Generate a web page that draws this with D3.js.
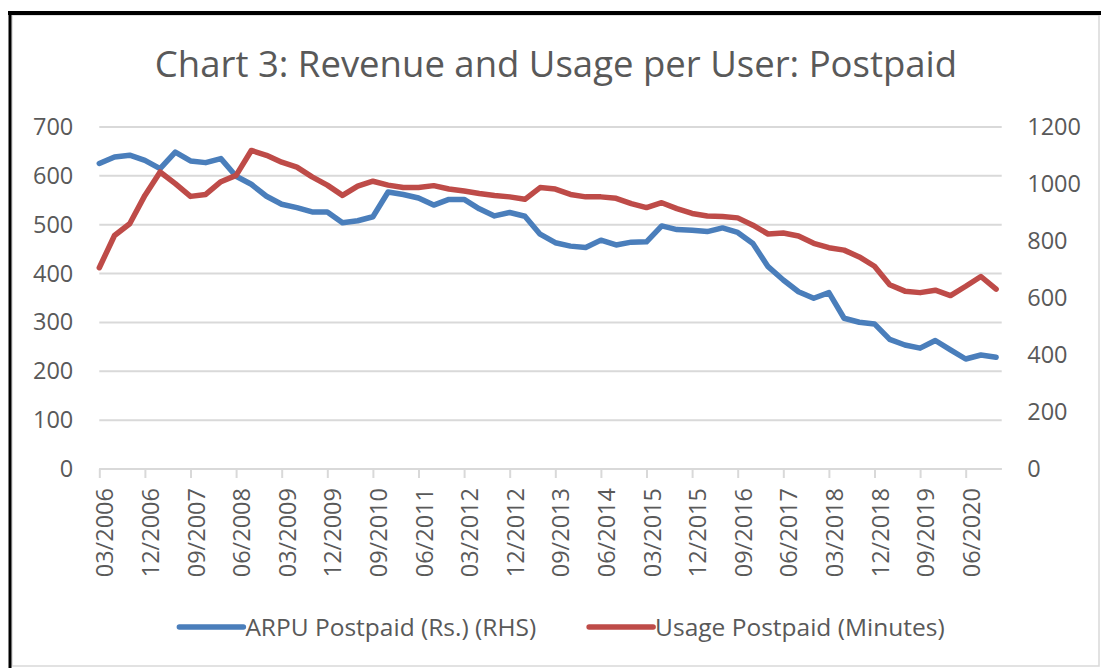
<!DOCTYPE html>
<html>
<head>
<meta charset="utf-8">
<script src="https://cdn.jsdelivr.net/npm/d3@7"></script>
<style>
  body { margin: 0; background: #fff; }
  svg { display: block; }
  text { font-family: "Open Sans", "Liberation Sans", sans-serif; fill: #595959; }
</style>
</head>
<body>
<div id="chart"></div>
<script>
const width = 1101;
const height = 668;

// quarters, 03/2006 .. 12/2020
const quarters = [
  '03/2006','06/2006','09/2006','12/2006','03/2007','06/2007','09/2007','12/2007',
  '03/2008','06/2008','09/2008','12/2008','03/2009','06/2009','09/2009','12/2009',
  '03/2010','06/2010','09/2010','12/2010','03/2011','06/2011','09/2011','12/2011',
  '03/2012','06/2012','09/2012','12/2012','03/2013','06/2013','09/2013','12/2013',
  '03/2014','06/2014','09/2014','12/2014','03/2015','06/2015','09/2015','12/2015',
  '03/2016','06/2016','09/2016','12/2016','03/2017','06/2017','09/2017','12/2017',
  '03/2018','06/2018','09/2018','12/2018','03/2019','06/2019','09/2019','12/2019',
  '03/2020','06/2020','09/2020','12/2020'
];

const xTickLabels = [
  '03/2006','12/2006','09/2007','06/2008','03/2009','12/2009','09/2010',
  '06/2011','03/2012','12/2012','09/2013','06/2014','03/2015','12/2015',
  '09/2016','06/2017','03/2018','12/2018','09/2019','06/2020'
];

// ARPU postpaid (Rs.), right axis
const arpu = [
  1072,1095,1101,1083,1054,1112,1081,1075,1089,1027,
  999,957,929,917,902,902,864,871,885,972,
  963,951,926,946,946,913,888,900,887,824,
  794,782,777,803,786,796,797,853,840,838,
  833,846,830,791,710,663,622,599,619,529,
  515,509,455,435,424,451,418,386,400,392
];

// usage postpaid (minutes), left axis
const usage = [
  412,478,502,560,608,584,558,562,588,601,
  652,642,628,618,598,581,560,579,589,581,
  576,576,580,573,569,564,560,557,552,576,
  573,562,557,557,554,543,535,545,533,523,
  518,517,514,499,481,483,477,462,453,448,
  434,415,377,364,361,366,355,374,394,368
];

const leftTicks = [0, 100, 200, 300, 400, 500, 600, 700];
const rightTicks = [0, 200, 400, 600, 800, 1000, 1200];

const seriesNames = ['ARPU Postpaid (Rs.) (RHS)', 'Usage Postpaid (Minutes)'];
const seriesColors = ['#4a7ebb', '#be4b48'];

const plotL = 99.3, plotR = 1001.7, plotT = 127, plotB = 469;

const svg = d3.select('#chart')
  .append('svg')
  .attr('width', width)
  .attr('height', height);

// frame
svg.append('rect')
  .attr('x', 12).attr('y', 15)
  .attr('width', 1087).attr('height', 651)
  .attr('fill', '#fff')
  .attr('stroke', '#d9d9d9')
  .attr('stroke-width', 1.5);
svg.append('line')
  .attr('x1', 8).attr('x2', width).attr('y1', 13).attr('y2', 13)
  .attr('stroke', '#000').attr('stroke-width', 4);
svg.append('line')
  .attr('x1', 10).attr('x2', 10).attr('y1', 11).attr('y2', height)
  .attr('stroke', '#000').attr('stroke-width', 3);

// title
svg.append('text')
  .attr('x', 556)
  .attr('y', 77)
  .attr('text-anchor', 'middle')
  .style('font-size', '36.5px')
  .text('Chart 3: Revenue and Usage per User: Postpaid');

const x = d3.scalePoint()
  .domain(quarters)
  .range([plotL, plotL + 15.2 * (quarters.length - 1)]);

const yL = d3.scaleLinear().domain([0, 700]).range([plotB, plotT]);
const yR = d3.scaleLinear().domain([0, 1200]).range([plotB, plotT]);

// gridlines
svg.append('g')
  .selectAll('line')
  .data(leftTicks)
  .join('line')
  .attr('x1', plotL).attr('x2', plotR)
  .attr('y1', d => yL(d)).attr('y2', d => yL(d))
  .attr('stroke', '#d9d9d9')
  .attr('stroke-width', 2);

// left axis
const gL = svg.append('g')
  .attr('transform', `translate(${plotL},0)`)
  .call(d3.axisLeft(yL).tickValues(leftTicks).tickFormat(d3.format('d')).tickSize(0).tickPadding(26));
gL.select('.domain').remove();
gL.selectAll('text').style('font-size', '23.5px').attr('fill', '#595959');

// right axis
const gR = svg.append('g')
  .attr('transform', `translate(${plotR},0)`)
  .call(d3.axisRight(yR).tickValues(rightTicks).tickFormat(d3.format('d')).tickSize(0).tickPadding(25.5));
gR.select('.domain').remove();
gR.selectAll('text').style('font-size', '23.5px').attr('fill', '#595959');

// bottom axis
const gX = svg.append('g')
  .attr('transform', `translate(0,${plotB})`)
  .call(d3.axisBottom(x).tickValues(xTickLabels).tickSize(9));
gX.select('.domain')
  .attr('d', `M${plotL},0H${plotR}`)
  .attr('stroke', '#d9d9d9')
  .attr('stroke-width', 2);
gX.selectAll('.tick line').attr('stroke', '#d9d9d9').attr('stroke-width', 2);
gX.selectAll('.tick text')
  .attr('transform', 'rotate(-90)')
  .attr('x', -19)
  .attr('y', 13.5)
  .attr('dy', null)
  .attr('text-anchor', 'end')
  .attr('fill', '#595959')
  .style('font-size', '23.5px');

// lines
const lineL = d3.line().x((d, i) => x(quarters[i])).y(d => yL(d));
const lineR = d3.line().x((d, i) => x(quarters[i])).y(d => yR(d));

svg.append('path')
  .datum(arpu)
  .attr('d', lineR)
  .attr('fill', 'none')
  .attr('stroke', seriesColors[0])
  .attr('stroke-width', 5.5)
  .attr('stroke-linejoin', 'round')
  .attr('stroke-linecap', 'round');

svg.append('path')
  .datum(usage)
  .attr('d', lineL)
  .attr('fill', 'none')
  .attr('stroke', seriesColors[1])
  .attr('stroke-width', 5.5)
  .attr('stroke-linejoin', 'round')
  .attr('stroke-linecap', 'round');

// legend
const legY = 627;
const swatch = 64;
const itemGap = 53;
const leg = svg.append('g');
const items = leg.selectAll('g')
  .data(seriesNames)
  .join('g');
items.append('line')
  .attr('x1', 0).attr('x2', swatch)
  .attr('y1', 0).attr('y2', 0)
  .attr('stroke', (d, i) => seriesColors[i])
  .attr('stroke-width', 5.5)
  .attr('stroke-linecap', 'round');
items.append('text')
  .attr('x', swatch + 2)
  .attr('y', 0)
  .attr('dy', '0.35em')
  .style('font-size', '24.5px')
  .text(d => d);

let widths = [];
items.each(function() { widths.push(this.getBBox().width); });
const total = d3.sum(widths) + itemGap * (widths.length - 1);
let cx = 562 - total / 2;
items.attr('transform', (d, i) => {
  const t = `translate(${cx},${legY})`;
  cx += widths[i] + itemGap;
  return t;
});
</script>
</body>
</html>
